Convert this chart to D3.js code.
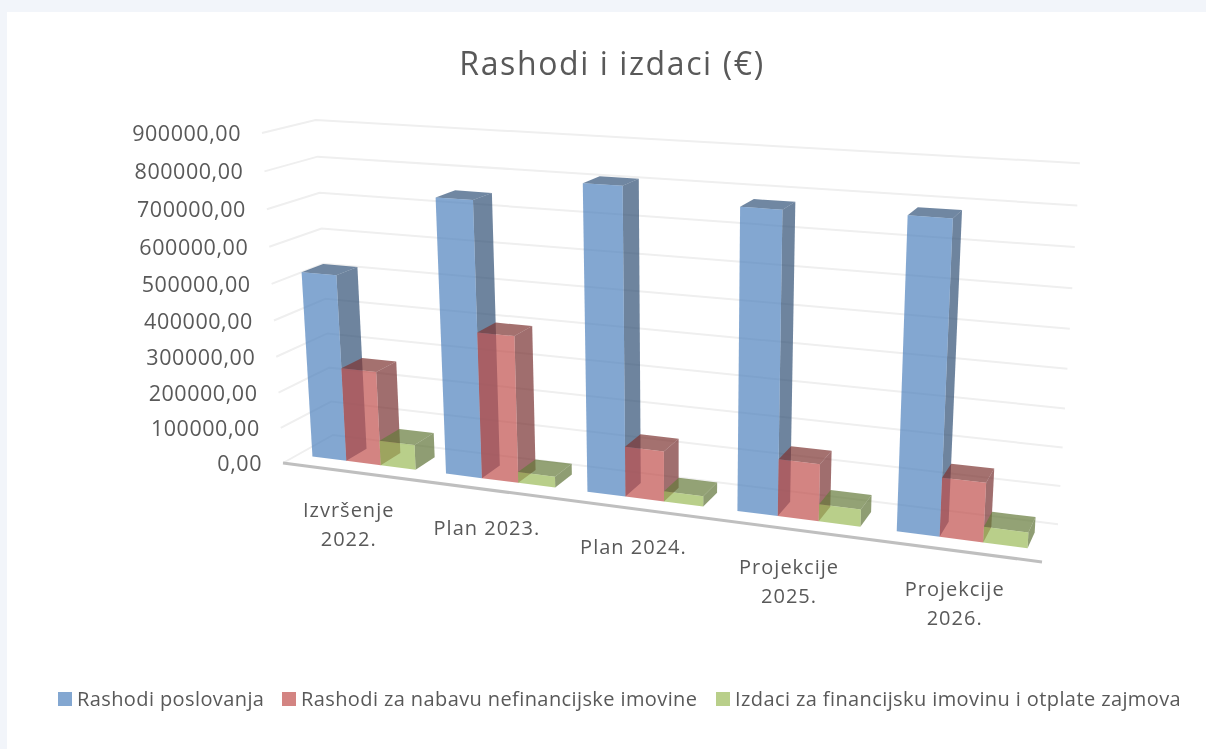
<!DOCTYPE html>
<html>
<head>
<meta charset="utf-8">
<script src="https://cdn.jsdelivr.net/npm/d3@7"></script>
<style>
	html, body { margin: 0; padding: 0; background: #f2f5fa; }
	svg { display: block; filter: blur(0.4px); }
	text { font-family: "Open Sans", sans-serif; fill: #595959; }
</style>
</head>
<body>
<svg id="chart" width="1206" height="749"></svg>
<script>
const categories = [["Izvršenje", "2022."], ["Plan 2023."], ["Plan 2024."], ["Projekcije", "2025."], ["Projekcije", "2026."]];
const seriesNames = ["Rashodi poslovanja", "Rashodi za nabavu nefinancijske imovine", "Izdaci za financijsku imovinu i otplate zajmova"];
const seriesColors = ["#4f81bd", "#c0504d", "#9bbb59"];
const rashodiPoslovanja = [519000, 748000, 810000, 778000, 785000];
const rashodiNabava = [263000, 400000, 135000, 150000, 152000];
const izdaciImovina = [70000, 30000, 28000, 45000, 40000];
const valueTicks = d3.range(0, 900001, 100000);

const allSeries = [rashodiPoslovanja, rashodiNabava, izdaciImovina];

// corners of the chart box on screen plus their perspective weights
const camera = {
	origin: [283, 463],
	right: [1042, 562], rightWeight: 0.86,
	depth: [333, 435], depthWeight: 1.05,
	up: [262, 133], upWeight: 0.95
};

// fractions of the floor depth taken by the columns
const barFront = 0.29;
const barBack = 0.71;

/**
* project a point of the unit box to the screen
* @param {number} u position along the category axis, 0-1
* @param {number} v position along the depth axis, 0-1
* @param {number} h position along the value axis, 0-1
* @returns {array} [x, y]
*/
function project(u, v, h) {
	let c = camera,
		o = 1 - u - v - h,
		a = u * c.rightWeight,
		b = v * c.depthWeight,
		d = h * c.upWeight,
		w = o + a + b + d;
	return [
		(o * c.origin[0] + a * c.right[0] + b * c.depth[0] + d * c.up[0]) / w,
		(o * c.origin[1] + a * c.right[1] + b * c.depth[1] + d * c.up[1]) / w
	];
}

const svg = d3.select("#chart");
const labelOf = (lines) => lines.join(" ");

const categoryScale = d3.scaleBand()
	.domain(categories.map(labelOf))
	.range([0, 1]);

const seriesScale = d3.scaleBand()
	.domain(d3.range(seriesNames.length))
	.range([0, categoryScale.bandwidth()])
	.paddingOuter(0.43);

const valueScale = d3.scaleLinear()
	.domain([0, 900000])
	.range([0, 1]);

const line = d3.line();

// white panel
svg.append("rect")
	.attr("x", 7).attr("y", 12)
	.attr("width", 1199).attr("height", 737)
	.attr("fill", "#fff");

// title
svg.append("text")
	.attr("x", 612).attr("y", 75)
	.attr("text-anchor", "middle")
	.attr("font-size", 32)
	.attr("letter-spacing", 1.6)
	.text("Rashodi i izdaci (€)");

// gridlines on the side wall and the back wall
svg.append("g")
	.selectAll("path")
	.data(valueTicks)
	.enter()
	.append("path")
	.attr("fill", "none")
	.attr("stroke", "#efefef")
	.attr("stroke-width", 2)
	.attr("d", (d) => {
		let h = valueScale(d);
		return line([project(0, 0, h), project(0, 1, h), project(1, 1, h)]);
	});

// value labels
svg.append("g")
	.selectAll("text")
	.data(valueTicks)
	.enter()
	.append("text")
	.attr("x", (d) => project(0, 0, valueScale(d))[0] - 21)
	.attr("y", (d) => project(0, 0, valueScale(d))[1] + 8)
	.attr("text-anchor", "end")
	.attr("font-size", 21.5)
	.attr("letter-spacing", 0.55)
	.text((d) => d3.format("d")(d) + ",00");

// floor line
svg.append("path")
	.attr("stroke", "#bfbfbf")
	.attr("stroke-width", 3)
	.attr("d", line([project(0, 0, 0), project(1, 0, 0)]));

/**
* draw one column as its right side, top and front face
* @returns {undefined}
*/
function drawColumn(group, category, seriesIdx, value) {
	let u0 = categoryScale(labelOf(category)) + seriesScale(seriesIdx),
		u1 = u0 + seriesScale.bandwidth(),
		h = valueScale(value),
		color = seriesColors[seriesIdx];

	let faces = [
		{
			points: [project(u1, barFront, 0), project(u1, barBack, 0), project(u1, barBack, h), project(u1, barFront, h)],
			fill: d3.rgb(color).darker(1.35)
		},
		{
			points: [project(u0, barFront, h), project(u1, barFront, h), project(u1, barBack, h), project(u0, barBack, h)],
			fill: d3.rgb(color).darker(1.2)
		},
		{
			points: [project(u0, barFront, 0), project(u1, barFront, 0), project(u1, barFront, h), project(u0, barFront, h)],
			fill: color
		}
	];

	group.selectAll(null)
		.data(faces)
		.enter()
		.append("path")
		.attr("d", (d) => line(d.points) + "Z")
		.attr("fill", (d) => d.fill)
		.attr("fill-opacity", 0.7);
}

let columns = svg.append("g");
categories.forEach((category, i) => {
	allSeries.forEach((values, s) => {
		drawColumn(columns, category, s, values[i]);
	});
});

// category labels
let categoryLabels = svg.append("g")
	.selectAll("text")
	.data(categories)
	.enter()
	.append("text")
	.attr("text-anchor", "middle")
	.attr("font-size", 20)
	.attr("letter-spacing", 1)
	.attr("transform", (d) => {
		let p = project(categoryScale(labelOf(d)) + categoryScale.bandwidth() / 2, 0, 0);
		return "translate(" + (p[0] - 0.5) + "," + (p[1] + 45) + ")";
	});

categoryLabels.selectAll("tspan")
	.data((d) => d)
	.enter()
	.append("tspan")
	.attr("x", 0)
	.attr("dy", (d, i) => i === 0 ? 0 : 29)
	.text((d) => d);

// legend
const legendX = [58, 282, 716];
let legend = svg.append("g")
	.selectAll("g")
	.data(seriesNames)
	.enter()
	.append("g")
	.attr("transform", (d, i) => "translate(" + legendX[i] + ",692)");

legend.append("rect")
	.attr("width", 14).attr("height", 14)
	.attr("fill", (d, i) => seriesColors[i])
	.attr("fill-opacity", 0.7);

legend.append("text")
	.attr("x", 19).attr("y", 14)
	.attr("font-size", 20)
	.attr("letter-spacing", 0.4)
	.text((d) => d);
</script>
</body>
</html>
